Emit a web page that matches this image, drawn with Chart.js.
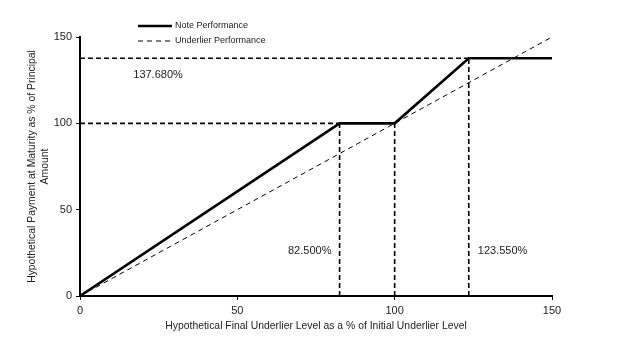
<!DOCTYPE html>
<html>
<head>
<meta charset="utf-8">
<script src="https://cdn.jsdelivr.net/npm/chart.js@4.4.1/dist/chart.umd.min.js"></script>
<style>
  html, body { margin: 0; padding: 0; background: #fff; }
  #wrap { width: 624px; height: 340px; }
</style>
</head>
<body>
<div id="wrap"><canvas id="myChart" width="624" height="340"></canvas></div>
<script>
// payoff points
const noteX = [0, 82.5, 100, 123.55, 150];
const noteY = [0, 100, 100, 137.68, 137.68];
const underX = [0, 150];
const underY = [0, 150];
const xTicks = [0, 50, 100, 150];
const yTicks = [0, 50, 100, 150];

// dashed guide lines: [x0, y0, x1, y1]
const guides = [
  [0, 137.68, 123.55, 137.68],
  [0, 100, 82.5, 100],
  [82.5, 0, 82.5, 100],
  [100, 0, 100, 100],
  [123.55, 0, 123.55, 137.68]
];
// labels: text, x, y (data units)
const labelText = ["137.680%", "82.500%", "123.550%"];
const labelX = [24.8, 73, 134.3];
const labelY = [128, 26, 26];

const legendNames = ["Note Performance", "Underlier Performance"];

function pts(xs, ys) {
  return xs.map(function (x, i) { return { x: x, y: ys[i] }; });
}

var datasets = guides.map(function (g) {
  return {
    data: [{ x: g[0], y: g[1] }, { x: g[2], y: g[3] }],
    borderColor: '#000',
    borderWidth: 1.6,
    borderDash: [5, 3],
    pointRadius: 0,
    showLine: true
  };
});
datasets.push({
  label: legendNames[1],
  data: pts(underX, underY),
  borderColor: '#000',
  borderWidth: 1,
  borderDash: [5, 4],
  pointRadius: 0,
  showLine: true
});
datasets.push({
  label: legendNames[0],
  data: pts(noteX, noteY),
  borderColor: '#000',
  borderWidth: 2.6,
  pointRadius: 0,
  showLine: true
});

// draws the legend and the percent labels
const extras = {
  id: 'extras',
  afterDraw: function (chart) {
    var ctx = chart.ctx;
    var xs = chart.scales.x, ys = chart.scales.y;
    ctx.save();
    ctx.fillStyle = '#222';
    ctx.font = '11px "Liberation Sans", Arial, sans-serif';
    ctx.textAlign = 'center';
    ctx.textBaseline = 'middle';
    for (var i = 0; i < labelText.length; i++) {
      ctx.fillText(labelText[i], xs.getPixelForValue(labelX[i]), ys.getPixelForValue(labelY[i]));
    }
    // legend
    ctx.strokeStyle = '#000';
    ctx.lineWidth = 2.6;
    ctx.beginPath(); ctx.moveTo(138, 26); ctx.lineTo(172, 26); ctx.stroke();
    ctx.lineWidth = 1.2;
    ctx.setLineDash([5, 4]);
    ctx.beginPath(); ctx.moveTo(138, 41); ctx.lineTo(172, 41); ctx.stroke();
    ctx.setLineDash([]);
    ctx.font = '9px "Liberation Sans", Arial, sans-serif';
    ctx.textAlign = 'left';
    ctx.fillText(legendNames[0], 175, 26);
    ctx.fillText(legendNames[1], 175, 41);
    ctx.restore();
  }
};

var ctx = document.getElementById('myChart').getContext('2d');
var chart = new Chart(ctx, {
  type: 'scatter',
  data: { datasets: datasets },
  plugins: [extras],
  options: {
    responsive: false,
    animation: false,
    layout: { padding: { top: 37, right: 72, left: 0, bottom: 0 } },
    plugins: { legend: { display: false }, tooltip: { enabled: false } },
    scales: {
      x: {
        type: 'linear', min: 0, max: 150,
        afterBuildTicks: function (s) { s.ticks = xTicks.map(function (v) { return { value: v }; }); },
        afterFit: function (s) { s.height = 44; },
        border: { color: '#000', width: 2 },
        grid: { display: true, drawOnChartArea: false, color: '#000', tickLength: 4 },
        ticks: { color: '#222', font: { size: 11, family: '"Liberation Sans", Arial' }, padding: 4, maxRotation: 0 },
        title: {
          display: true,
          text: 'Hypothetical Final Underlier Level as a % of Initial Underlier Level',
          color: '#222', font: { size: 10.4, family: '"Liberation Sans", Arial' },
          padding: { top: 4, bottom: 8 }
        }
      },
      y: {
        type: 'linear', min: 0, max: 150,
        afterBuildTicks: function (s) { s.ticks = yTicks.map(function (v) { return { value: v }; }); },
        afterFit: function (s) { s.width = 80; },
        border: { color: '#000', width: 2 },
        grid: { display: true, drawOnChartArea: false, color: '#000', tickLength: 4 },
        ticks: { color: '#222', font: { size: 11, family: '"Liberation Sans", Arial' }, padding: 4 },
        title: {
          display: true,
          text: ['Hypothetical Payment at Maturity as % of Principal', 'Amount'],
          color: '#222', font: { size: 10.4, family: '"Liberation Sans", Arial', lineHeight: 1.2 },
          padding: { top: 26, bottom: 0 }
        }
      }
    }
  }
});
</script>
</body>
</html>
